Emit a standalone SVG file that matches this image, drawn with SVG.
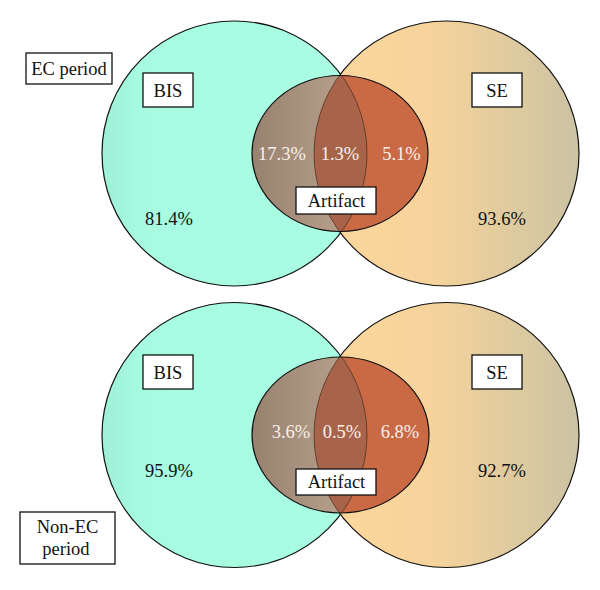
<svg xmlns="http://www.w3.org/2000/svg" width="600" height="590" viewBox="0 0 600 590">
<style>
.lbl{fill:#fff;stroke:#111;stroke-width:1.3}
.t{font-family:"Liberation Serif","Times New Roman",serif;font-size:18.5px;fill:#111;text-anchor:middle}
.w{fill:#f8f0ea}
.circ{stroke:#111;stroke-width:1.2}
.arc{fill:none;stroke:#3a2418;stroke-width:0.9;stroke-opacity:0.7}
</style>
<defs>
<linearGradient id="gBIS" x1="0" y1="0" x2="1" y2="0">
<stop offset="0" stop-color="#9ef0d6"/><stop offset="0.15" stop-color="#a6fbe0"/><stop offset="1" stop-color="#a8fde2"/>
</linearGradient>
<linearGradient id="gSE" x1="0" y1="0" x2="1" y2="0">
<stop offset="0" stop-color="#fdd89d"/><stop offset="0.45" stop-color="#f6d39b"/><stop offset="1" stop-color="#cbc3a3"/>
</linearGradient>
<linearGradient id="gArt" x1="0" y1="0" x2="1" y2="0">
<stop offset="0" stop-color="#98826f"/><stop offset="0.5" stop-color="#b59f8b"/><stop offset="1" stop-color="#b59f8b"/>
</linearGradient>
<clipPath id="cBIS1"><circle cx="234.5" cy="153.5" r="132.5"/></clipPath>
<clipPath id="cSE1"><circle cx="446.5" cy="153.5" r="132.5"/></clipPath>
<clipPath id="cArt1"><ellipse cx="340" cy="153.5" rx="88" ry="78"/></clipPath>
<clipPath id="cBIS2"><circle cx="234.5" cy="435" r="132.5"/></clipPath>
<clipPath id="cSE2"><circle cx="446.5" cy="435" r="132.5"/></clipPath>
<clipPath id="cArt2"><ellipse cx="340.5" cy="435" rx="88.5" ry="78"/></clipPath>
</defs>

<!-- EC period (top) -->
<g id="bis-ec">
<circle class="circ" cx="234.5" cy="153.5" r="132.5" fill="url(#gBIS)"/>
</g>
<g id="se-ec">
<circle class="circ" cx="446.5" cy="153.5" r="132.5" fill="url(#gSE)"/>
</g>
<g id="artifact-ec">
<ellipse cx="340" cy="153.5" rx="88" ry="78" fill="url(#gArt)"/>
<ellipse cx="340" cy="153.5" rx="88" ry="78" fill="#c96a45" clip-path="url(#cSE1)"/>
<g clip-path="url(#cSE1)"><ellipse cx="340" cy="153.5" rx="88" ry="78" fill="#a8644b" clip-path="url(#cBIS1)"/></g>
<g clip-path="url(#cArt1)">
<circle class="arc" cx="234.5" cy="153.5" r="132.5"/>
<circle class="arc" cx="446.5" cy="153.5" r="132.5"/>
</g>
<ellipse cx="340" cy="153.5" rx="88" ry="78" fill="none" stroke="#111" stroke-width="1.2"/>
</g>
<g id="label-ec-period"><rect class="lbl" x="26" y="53" width="86" height="31"/><text class="t" x="69" y="75">EC period</text></g>
<g id="label-bis-ec"><rect class="lbl" x="143" y="73" width="50" height="34"/><text class="t" x="168" y="97">BIS</text></g>
<g id="label-se-ec"><rect class="lbl" x="472" y="73" width="50" height="34"/><text class="t" x="497" y="97">SE</text></g>
<g id="label-artifact-ec"><rect class="lbl" x="296" y="187" width="80" height="27"/><text class="t" x="336.5" y="207">Artifact</text></g>
<g id="values-ec">
<text class="t w" x="282" y="160">17.3%</text>
<text class="t w" x="340" y="160">1.3%</text>
<text class="t w" x="401.5" y="160">5.1%</text>
<text class="t" x="169" y="225">81.4%</text>
<text class="t" x="502" y="225">93.6%</text>
</g>

<!-- Non-EC period (bottom) -->
<g id="bis-nonec">
<circle class="circ" cx="234.5" cy="435" r="132.5" fill="url(#gBIS)"/>
</g>
<g id="se-nonec">
<circle class="circ" cx="446.5" cy="435" r="132.5" fill="url(#gSE)"/>
</g>
<g id="artifact-nonec">
<ellipse cx="340.5" cy="435" rx="88.5" ry="78" fill="url(#gArt)"/>
<ellipse cx="340.5" cy="435" rx="88.5" ry="78" fill="#c96a45" clip-path="url(#cSE2)"/>
<g clip-path="url(#cSE2)"><ellipse cx="340.5" cy="435" rx="88.5" ry="78" fill="#a8644b" clip-path="url(#cBIS2)"/></g>
<g clip-path="url(#cArt2)">
<circle class="arc" cx="234.5" cy="435" r="132.5"/>
<circle class="arc" cx="446.5" cy="435" r="132.5"/>
</g>
<ellipse cx="340.5" cy="435" rx="88.5" ry="78" fill="none" stroke="#111" stroke-width="1.2"/>
</g>
<g id="label-nonec-period"><rect class="lbl" x="20" y="512" width="95" height="52"/><text class="t" x="67.5" y="533">Non-EC</text><text class="t" x="66" y="555">period</text></g>
<g id="label-bis-nonec"><rect class="lbl" x="143" y="355" width="50" height="34"/><text class="t" x="168" y="379">BIS</text></g>
<g id="label-se-nonec"><rect class="lbl" x="472" y="355" width="50" height="34"/><text class="t" x="497" y="379">SE</text></g>
<g id="label-artifact-nonec"><rect class="lbl" x="296" y="469" width="80" height="26"/><text class="t" x="336.5" y="488">Artifact</text></g>
<g id="values-nonec">
<text class="t w" x="291" y="438">3.6%</text>
<text class="t w" x="342" y="438">0.5%</text>
<text class="t w" x="400" y="438">6.8%</text>
<text class="t" x="169" y="477">95.9%</text>
<text class="t" x="502" y="477">92.7%</text>
</g>
<g id="connectors"/>
</svg>
